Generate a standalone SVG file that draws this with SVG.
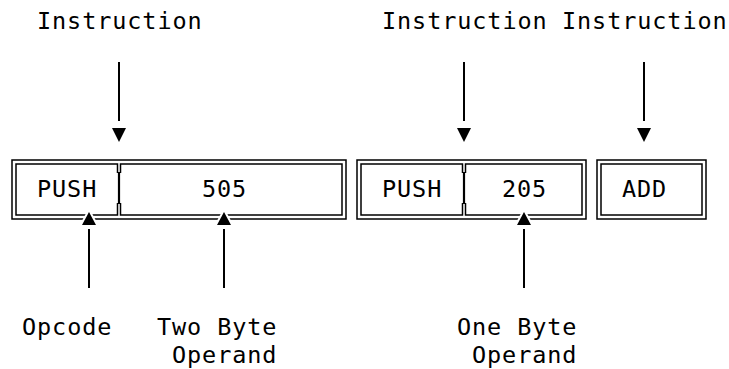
<svg xmlns="http://www.w3.org/2000/svg" width="729" height="369" viewBox="0 0 729 369">
<style>
text{font-family:"DejaVu Sans Mono","Liberation Mono",monospace;font-size:23.5px;letter-spacing:0.9px;fill:#000}
.b{fill:none;stroke:#000;stroke-width:1.5}
.d{fill:none;stroke:#000;stroke-width:2.2}
.s{fill:none;stroke:#000;stroke-width:2}
.ah{fill:#000}
.au{fill:#000;stroke:#fff;stroke-width:4;paint-order:stroke}
</style>
<rect width="729" height="369" fill="#fff"/>
<g id="labels">
<text x="37" y="28.5">Instruction</text>
<text x="382" y="28.5">Instruction</text>
<text x="562" y="28.5">Instruction</text>
<text x="22" y="335">Opcode</text>
<text x="157" y="335">Two Byte</text>
<text x="172" y="362.5">Operand</text>
<text x="457" y="335">One Byte</text>
<text x="472" y="362.5">Operand</text>
</g>
<g id="box1">
<rect class="b" x="12" y="160" width="334" height="59"/>
<path class="b" d="M117.5,173V164H16V215H117.5V203M120.5,173V164H342V215H120.5V203"/>
<path class="d" d="M119,172V204"/>
<text x="37" y="197">PUSH</text>
<text x="202" y="197">505</text>
</g>
<g id="box2">
<rect class="b" x="357" y="160" width="229" height="59"/>
<path class="b" d="M462.5,173V164H361V215H462.5V203M465.5,173V164H582V215H465.5V203"/>
<path class="d" d="M464,172V204"/>
<text x="382" y="197">PUSH</text>
<text x="502" y="197">205</text>
</g>
<g id="box3">
<rect class="b" x="597" y="160" width="109" height="59"/>
<rect class="b" x="601" y="164" width="101" height="51"/>
<text x="622" y="197">ADD</text>
</g>
<g id="connectors">
<path class="s" d="M119,62V121M464,62V121M644,62V121"/>
<polygon class="ah" points="112,128 126,128 119,142"/>
<polygon class="ah" points="457,128 471,128 464,142"/>
<polygon class="ah" points="637,128 651,128 644,142"/>
<path class="s" d="M89,229V288M224,229V288M524,229V288"/>
<polygon class="au" points="82,225 96,225 89,212"/>
<polygon class="au" points="217,225 231,225 224,212"/>
<polygon class="au" points="517,225 531,225 524,212"/>
</g>
</svg>
